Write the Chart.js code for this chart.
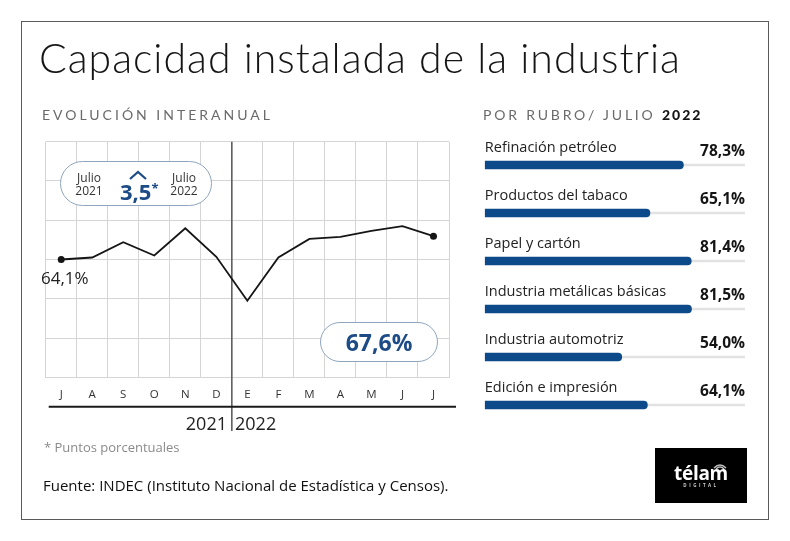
<!DOCTYPE html>
<html lang="es">
<head>
<meta charset="utf-8">
<script src="https://cdn.jsdelivr.net/npm/chart.js@4.4.1/dist/chart.umd.min.js"></script>
<style>
  html, body { margin: 0; padding: 0; background: #fff; }
  #wrap { position: relative; width: 790px; height: 541px; overflow: hidden; background: #fff; font-family: "Open Sans", sans-serif; }
  canvas { position: absolute; left: 0; top: 0; }
  .t { position: absolute; line-height: 1; white-space: nowrap; transform: translateY(-50%); z-index: 5; }
  .frame { position: absolute; left: 21px; top: 21px; width: 748px; height: 499px; border: 1.5px solid #5a5a5a; box-sizing: border-box; z-index: 1; }
  .pill { position: absolute; border: 1.3px solid #8fa5be; background: #fff; box-sizing: border-box; z-index: 4; }
  .blue { color: #1c4b86; font-weight: 700; }
</style>
</head>
<body>
<div id="wrap">
  <div class="frame"></div>
  <canvas id="lineChart" width="790" height="541"></canvas>
  <canvas id="barChart" width="790" height="541"></canvas>

  <div class="t" style="left:39px; top:57px; font-family:Lato, sans-serif; font-weight:300; font-size:41px; letter-spacing:1px; color:#151515;">Capacidad instalada de la industria</div>
  <div class="t" style="left:42px; top:115px; font-family:Lato, sans-serif; font-size:14px; letter-spacing:3px; color:#6a6a6a;">EVOLUCIÓN INTERANUAL</div>
  <div class="t" style="left:483px; top:115px; font-family:Lato, sans-serif; font-size:14px; letter-spacing:2.8px; color:#6a6a6a;">POR RUBRO/ JULIO <b style="color:#151515; letter-spacing:2px; font-weight:900;">2022</b></div>

  <div class="t" style="left:41px; top:277px; font-size:17px; color:#222;">64,1%</div>

  <div class="pill" style="left:60px; top:161px; width:152px; height:45px; border-radius:23px;"></div>
  <div class="t" style="left:89px; top:184px; font-size:12px; line-height:12.5px; color:#333; text-align:center; transform:translate(-50%,-50%);">Julio<br>2021</div>
  <div class="t" style="left:184px; top:184px; font-size:12px; line-height:12.5px; color:#333; text-align:center; transform:translate(-50%,-50%);">Julio<br>2022</div>
  <svg style="position:absolute; left:128px; top:169px; z-index:6;" width="20" height="12"><polyline points="2,10 10,3 18,10" fill="none" stroke="#1c4b86" stroke-width="2.2"/></svg>
  <div class="t blue" style="left:120px; top:191px; font-size:22px;">3,5<span style="font-size:13px; position:relative; top:-7px;">*</span></div>

  <div class="pill" style="left:320px; top:322px; width:118px; height:40px; border-radius:20px;"></div>
  <div class="t blue" style="left:379px; top:342px; font-size:23px; transform:translate(-50%,-50%);">67,6%</div>

  <div class="t" style="left:227px; top:423px; font-size:18px; color:#222; transform:translate(-100%,-50%);">2021</div>
  <div class="t" style="left:235px; top:423px; font-size:18px; color:#222;">2022</div>

  <div class="t" style="left:44px; top:447px; font-size:13px; color:#8a8a8a;">* Puntos porcentuales</div>
  <div class="t" style="left:43px; top:485px; font-size:15px; color:#111;">Fuente: INDEC (Instituto Nacional de Estadística y Censos).</div>

  <div style="position:absolute; left:655px; top:448px; width:92px; height:55px; background:#000; z-index:5;">
    <svg style="position:absolute; left:57px; top:13px;" width="16" height="8"><path d="M2,7 Q8,1 14,7" fill="none" stroke="#bbb" stroke-width="1.5"/><path d="M4,8 Q8,4 12,8" fill="none" stroke="#bbb" stroke-width="1.5"/></svg>
    <div style="position:absolute; left:0; width:92px; top:15px; text-align:center; color:#fff; font-weight:700; font-size:19px; line-height:20px; letter-spacing:-0.3px;">télam</div>
    <div style="position:absolute; left:0; width:92px; top:35px; text-align:center; color:#ccc; font-weight:700; font-size:4.5px; line-height:5px; letter-spacing:2.5px;">DIGITAL</div>
  </div>
</div>

<script>
// ---- Data ----
const months = ['J', 'A', 'S', 'O', 'N', 'D', 'E', 'F', 'M', 'A', 'M', 'J', 'J'];
const capacity = [64.1, 64.4, 66.7, 64.7, 68.8, 64.5, 57.9, 64.4, 67.2, 67.5, 68.4, 69.1, 67.6];
const yMin = 46.4;
const yMax = 81.8;
const yStep = 5.9;

const sectors = ['Refinación petróleo', 'Productos del tabaco', 'Papel y cartón', 'Industria metálicas básicas', 'Industria automotriz', 'Edición e impresión'];
const sectorValues = [78.3, 65.1, 81.4, 81.5, 54.0, 64.1];
const barMax = 102.6;
const trackValues = sectors.map(() => barMax);

const gridColor = '#d5d5d5';

// ---- Line chart ----
const linePlugin = {
  id: 'lineExtras',
  beforeDatasetsDraw(chart) {
    const ctx = chart.ctx, x = chart.scales.x, area = chart.chartArea;
    const xd = (x.getPixelForValue(5) + x.getPixelForValue(6)) / 2;
    ctx.save();
    ctx.strokeStyle = '#555';
    ctx.lineWidth = 1.5;
    ctx.beginPath();
    ctx.moveTo(xd, area.top);
    ctx.lineTo(xd, 431);
    ctx.stroke();
    ctx.strokeStyle = '#1a1a1a';
    ctx.lineWidth = 2;
    ctx.beginPath();
    ctx.moveTo(area.left + 3, area.bottom + 29.5);
    ctx.lineTo(area.right + 7, area.bottom + 29.5);
    ctx.stroke();
    ctx.restore();
  }
};

new Chart(document.getElementById('lineChart'), {
  type: 'line',
  data: {
    labels: months,
    datasets: [{
      data: capacity,
      borderColor: '#151515',
      borderWidth: 1.8,
      tension: 0,
      pointRadius: capacity.map((v, i) => (i === 0 || i === capacity.length - 1) ? 3.5 : 0),
      pointBackgroundColor: '#151515',
      pointBorderWidth: 0
    }]
  },
  options: {
    responsive: false,
    animation: false,
    devicePixelRatio: 1,
    layout: { padding: { left: 45.7, top: 141.7, right: 341, bottom: 133.7 } },
    plugins: { legend: { display: false }, tooltip: { enabled: false } },
    scales: {
      x: {
        offset: true,
        grid: { offset: true, color: gridColor, drawTicks: false },
        border: { color: gridColor },
        ticks: { color: '#333', font: { family: 'Open Sans', size: 11.5 }, padding: 11, maxRotation: 0, autoSkip: false },
        afterFit(s) { s.height = 30; }
      },
      y: {
        min: yMin,
        max: yMax,
        afterBuildTicks(s) {
          const t = [];
          for (let i = 0; i <= 6; i++) t.push({ value: yMin + i * yStep });
          s.ticks = t;
        },
        grid: { color: gridColor, drawTicks: false },
        border: { display: false },
        ticks: { display: false },
        afterFit(s) { s.width = 0; }
      }
    }
  },
  plugins: [linePlugin]
});

// ---- Bar chart ----
const barLabels = {
  id: 'barLabels',
  afterDatasetsDraw(chart) {
    const ctx = chart.ctx, y = chart.scales.y, area = chart.chartArea;
    ctx.save();
    ctx.textBaseline = 'middle';
    sectors.forEach((name, i) => {
      const yc = y.getPixelForValue(i);
      ctx.fillStyle = '#222';
      ctx.textAlign = 'left';
      ctx.font = '14.5px "Open Sans"';
      ctx.fillText(name, area.left, yc - 17);
      ctx.fillStyle = '#151515';
      ctx.textAlign = 'right';
      ctx.font = 'bold 15.5px "Open Sans"';
      ctx.fillText(sectorValues[i].toFixed(1).replace('.', ',') + '%', area.right, yc - 13.5);
    });
    ctx.restore();
  }
};

new Chart(document.getElementById('barChart'), {
  type: 'bar',
  data: {
    labels: sectors,
    datasets: [
      {
        data: sectorValues,
        backgroundColor: '#0d4a8a',
        barThickness: 8,
        borderRadius: 4,
        borderSkipped: 'start',
        grouped: false
      },
      {
        data: trackValues,
        backgroundColor: '#e2e2e2',
        barThickness: 2,
        grouped: false
      }
    ]
  },
  options: {
    indexAxis: 'y',
    responsive: false,
    animation: false,
    devicePixelRatio: 1,
    layout: { padding: { left: 484.8, right: 45, top: 141, bottom: 112 } },
    plugins: { legend: { display: false }, tooltip: { enabled: false } },
    scales: {
      x: { display: false, min: 0, max: barMax },
      y: { display: false }
    }
  },
  plugins: [barLabels]
});
</script>
</body>
</html>
